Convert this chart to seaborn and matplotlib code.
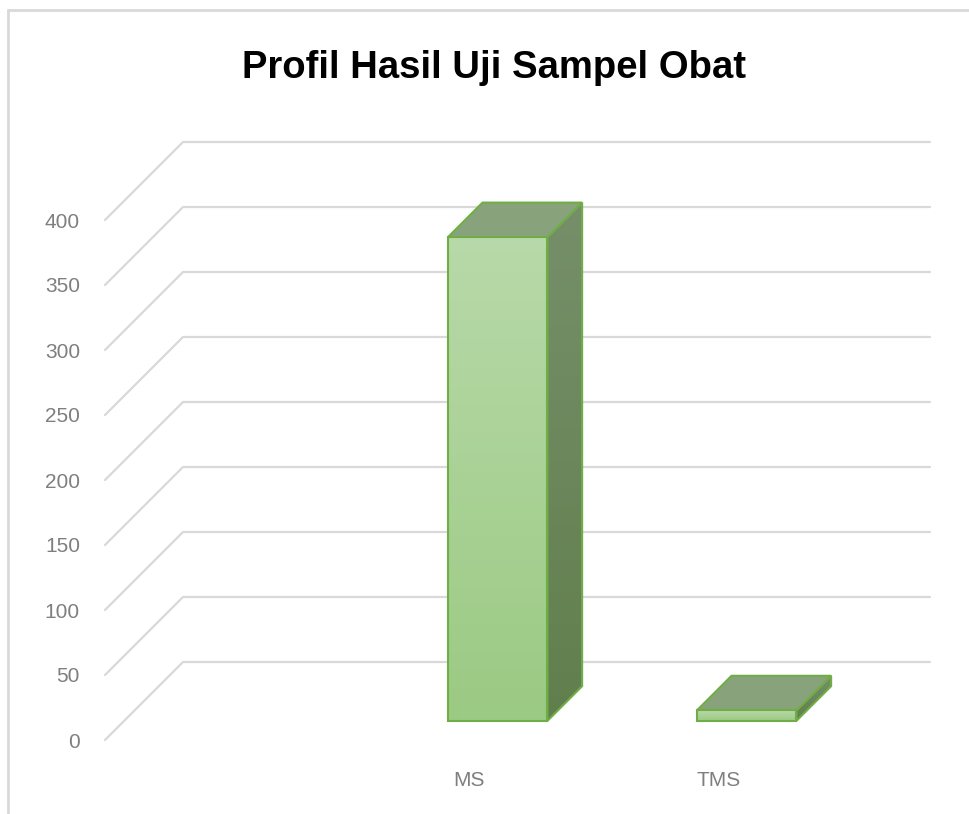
import matplotlib
matplotlib.use("Agg")
import matplotlib.pyplot as plt
import matplotlib.transforms as mtransforms
from matplotlib.lines import Line2D
from matplotlib.patches import Polygon
import numpy as np
import seaborn as sns

# data
CATEGORIES = ["MS", "TMS"]
VALUES = [372, 8]
Y_TICKS = [0, 50, 100, 150, 200, 250, 300, 350, 400]
TITLE = "Profil Hasil Uji Sampel Obat"

W, H = 970, 814
EDGE = "#70ad47"
GRID = "#d9d9d9"
LABEL = "#7f7f7f"
FRONT_TOP, FRONT_BOT = "#b8d9a9", "#9bca83"
SIDE_TOP, SIDE_BOT = "#768f6a", "#617f4d"
TOP_FACE = "#88a37c"

# oblique depth of the 3D box (data units), bars sit between D0 and D1
DX, DY = 78 / 249, 78 / 1.3
D0, D1 = 0.245, 0.69

sns.set_theme(style="white")
plt.rcParams["font.family"] = ["Liberation Sans", "DejaVu Sans"]

fig = plt.figure(figsize=(W / 100, H / 100), dpi=100)
ax = fig.add_axes([105 / W, (H - 740) / H, 747 / W, 520 / H])

# back wall gridlines + floor diagonals
for v in Y_TICKS:
    ax.plot([-1.5, -1.5 + DX, 1.5 + DX], [v, v + DY, v + DY],
            color=GRID, lw=1.6, clip_on=False, zorder=1)

sns.barplot(x=CATEGORIES, y=VALUES, width=0.4, color=FRONT_BOT,
            edgecolor=EDGE, linewidth=1.5, ax=ax, zorder=5)

grad = np.linspace(0, 1, 256).reshape(-1, 1)
front_cmap = sns.blend_palette([FRONT_BOT, FRONT_TOP], as_cmap=True)
side_cmap = sns.blend_palette([SIDE_BOT, SIDE_TOP], as_cmap=True)

for p in list(ax.patches):
    x0, w, h = p.get_x(), p.get_width(), p.get_height()
    ox0, oy0 = D0 * DX, D0 * DY
    ox1, oy1 = D1 * DX, D1 * DY
    side = Polygon([(x0 + w + ox0, oy0), (x0 + w + ox1, oy1),
                    (x0 + w + ox1, h + oy1), (x0 + w + ox0, h + oy0)],
                   closed=True, facecolor="none", edgecolor=EDGE, lw=1.5,
                   zorder=4, clip_on=False)
    top = Polygon([(x0 + ox0, h + oy0), (x0 + w + ox0, h + oy0),
                   (x0 + w + ox1, h + oy1), (x0 + ox1, h + oy1)],
                  closed=True, facecolor=TOP_FACE, edgecolor=EDGE, lw=1.5,
                  zorder=4, clip_on=False)
    ax.add_patch(side)
    ax.add_patch(top)
    im = ax.imshow(grad, cmap=side_cmap, origin="lower", aspect="auto",
                   extent=(x0 + w + ox0, x0 + w + ox1, oy0, h + oy1), zorder=3.5)
    im.set_clip_box(fig.bbox)
    im.set_clip_path(side)
    # move the seaborn front face back into the box
    p.set_x(x0 + ox0)
    p.set_y(oy0)
    p.set_clip_on(False)
    p.set_facecolor("none")
    p.set_zorder(5)
    im2 = ax.imshow(grad, cmap=front_cmap, origin="lower", aspect="auto",
                    extent=(x0 + ox0, x0 + w + ox0, oy0, h + oy0), zorder=4.5)
    im2.set_clip_box(fig.bbox)
    im2.set_clip_path(p)

ax.set_xlim(-1.5, 1.5)
ax.set_ylim(0, 400)
ax.set_yticks(Y_TICKS)
ax.set_yticklabels([str(v) for v in Y_TICKS])
ax.set_xticks(range(len(CATEGORIES)))
ax.set_xticklabels(CATEGORIES)
ax.tick_params(axis="y", length=0, pad=18, labelsize=15, labelcolor=LABEL)
ax.tick_params(axis="x", length=0, pad=22, labelsize=15, labelcolor=LABEL)
off = mtransforms.ScaledTranslation(-9 / 100, 0, fig.dpi_scale_trans)
for lab in ax.get_xticklabels():
    lab.set_transform(lab.get_transform() + off)
ax.set_xlabel("")
ax.set_ylabel("")
sns.despine(ax=ax, left=True, bottom=True)
ax.patch.set_alpha(0)

fig.text(494 / W, 1 - 68 / H, TITLE, ha="center", va="center",
         fontsize=27.5, fontweight="bold", color="black")

# chart frame (left and top edges visible)
fig.add_artist(Line2D([8 / W, 8 / W], [0, 1 - 10 / H], color=GRID, lw=2))
fig.add_artist(Line2D([8 / W, 1], [1 - 10 / H, 1 - 10 / H], color=GRID, lw=2))

fig.savefig("out.png", dpi=100, facecolor="white")
